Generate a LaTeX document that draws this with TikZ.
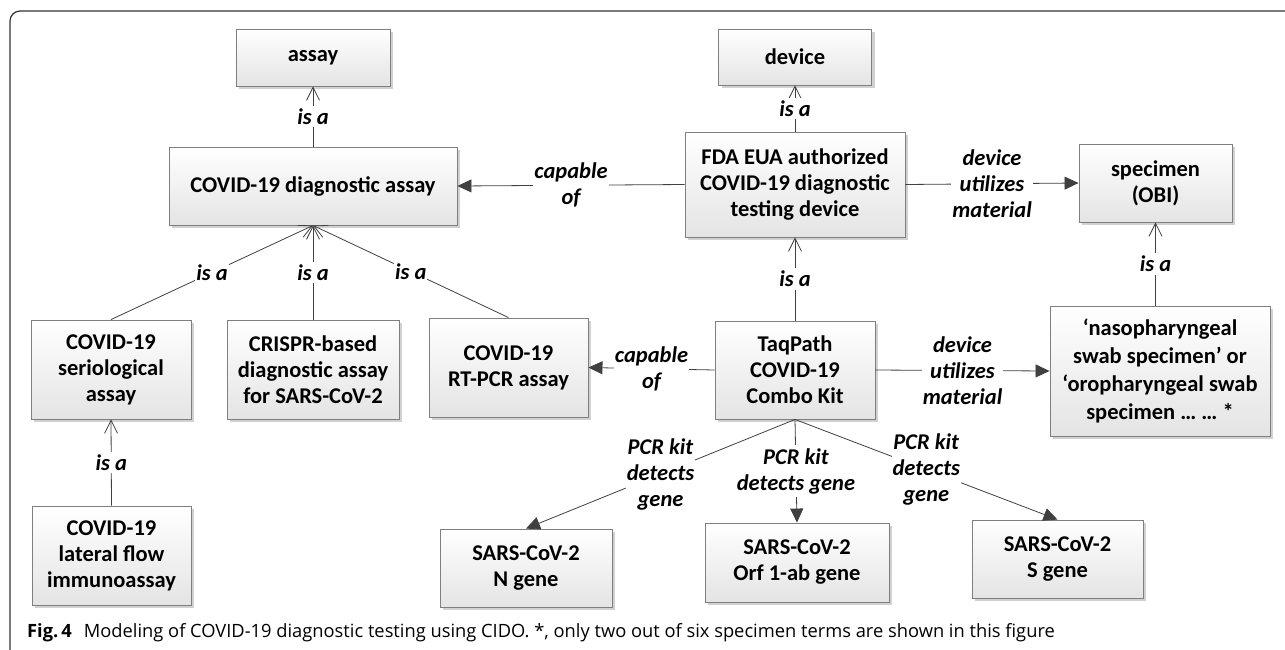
\documentclass[tikz,border=0pt]{standalone}
\usepackage{fontspec}
\setmainfont{Carlito}
\newfontfamily\capfont{Open Sans}
\usetikzlibrary{arrows.meta,shadows}
\definecolor{linec}{HTML}{404040}
\definecolor{boxline}{HTML}{7F7F7F}
\definecolor{boxbot}{HTML}{E4E4E4}
\tikzset{
  box/.style={draw=boxline, line width=0.9pt, top color=white, bottom color=boxbot,
    align=center, inner sep=1pt, text=black,
    font=\fontsize{22.5}{26}\selectfont\bfseries,
    drop shadow={shadow xshift=3pt, shadow yshift=-3pt, fill=black, opacity=0.18}},
  conn/.style={draw=linec, line width=0.8pt},
  isa/.style={conn, -{Straight Barb[length=13pt,width=13pt,line width=0.8pt]}},
  rel/.style={conn, -{Triangle[length=14pt,width=13pt]}},
  lbl/.style={fill=white, align=center, inner xsep=1pt, inner ysep=3pt, text=black,
    font=\fontsize{22.5}{26}\selectfont\bfseries\itshape},
  frame/.style={draw=black!80, line width=1.2pt, rounded corners=10pt}
}
\begin{document}
\begin{tikzpicture}[x=1pt,y=-1pt]
\useasboundingbox (0,0) rectangle (1285,649);
\draw[frame] (10,655) -- (10,11) -- (1292,11);

% boxes
\node[box, minimum width=154pt, minimum height=57pt] (assay) at (313,57.5) {assay};
\node[box, minimum width=153pt, minimum height=56pt] (device) at (795,57) {device};
\node[box, minimum width=288pt, minimum height=78pt] (diag) at (313,186) {COVID-19 diagnostic assay};
\node[box, minimum width=220pt, minimum height=105pt] (fda) at (795,184.5) {FDA EUA authorized\\COVID-19 diagnostic\\testing device};
\node[box, minimum width=153pt, minimum height=78pt] (spec) at (1155.5,183) {specimen\\(OBI)};
\node[box, minimum width=160pt, minimum height=99pt] (serio) at (111,369.5) {COVID-19\\seriological\\assay};
\node[box, minimum width=172pt, minimum height=99pt] (crispr) at (313,369.5) {CRISPR-based\\diagnostic assay\\for SARS-CoV-2};
\node[box, minimum width=159pt, minimum height=99pt] (rtpcr) at (508.5,367.5) {COVID-19\\RT-PCR assay};
\node[box, minimum width=160pt, minimum height=98pt] (taq) at (795,370) {TaqPath\\COVID-19\\Combo Kit};
\node[box, minimum width=220pt, minimum height=130pt, font=\fontsize{22.5}{28}\selectfont\bfseries] (naso) at (1160,371) {‘nasopharyngeal\\swab specimen’ or\\‘oropharyngeal swab\\specimen … … *};
\node[box, minimum width=159pt, minimum height=99pt] (lateral) at (111.5,555.5) {COVID-19\\lateral flow\\immunoassay};
\node[box, minimum width=172pt, minimum height=78pt] (ngene) at (526,568) {SARS-CoV-2\\N gene};
\node[box, minimum width=184pt, minimum height=79pt] (orf) at (797,562.5) {SARS-CoV-2\\Orf 1-ab gene};
\node[box, minimum width=171pt, minimum height=78pt] (sgene) at (1057.5,559) {SARS-CoV-2\\S gene};

% is a
\draw[isa] (diag.north) -- node[lbl]{is a} (assay.south);
\draw[isa] (serio.north) -- node[lbl]{is a} (diag.south);
\draw[isa] (crispr.north) -- node[lbl]{is a} (diag.south);
\draw[isa] (rtpcr.north) -- node[lbl]{is a} (diag.south);
\draw[isa] (lateral.north) -- node[lbl]{is a} (serio.south);
\draw[isa] (fda.north) -- node[lbl]{is a} (device.south);
\draw[isa] (taq.north) -- node[lbl]{is a} (fda.south);
\draw[isa] (naso.north -| spec.south) -- node[lbl]{is a} (spec.south);

% relations
\draw[rel] (fda.west) -- node[lbl]{capable\\of} (diag.east);
\draw[rel] (fda.east) -- node[lbl]{device\\utilizes\\material} (spec.west);
\draw[rel] (taq.west) -- node[lbl]{capable\\of} (rtpcr.east);
\draw[rel] (taq.east) -- node[lbl]{device\\utilizes\\material} (naso.west);
\draw[rel] (taq.south) -- node[lbl]{PCR kit\\detects\\gene} (ngene.north);
\draw[rel] (taq.south) -- node[lbl]{PCR kit\\detects gene} (orf.north);
\draw[rel] (taq.south) -- node[lbl]{PCR kit\\detects\\gene} (sgene.north);

% caption
\node[anchor=base west, inner sep=0pt, text=black, font=\capfont\fontsize{18.3}{20}\selectfont] (caption) at (27,637)
  {\textbf{Fig.\,4}\hspace{12pt}Modeling of COVID-19 diagnostic testing using CIDO. *, only two out of six specimen terms are shown in this figure};
\end{tikzpicture}
\end{document}
